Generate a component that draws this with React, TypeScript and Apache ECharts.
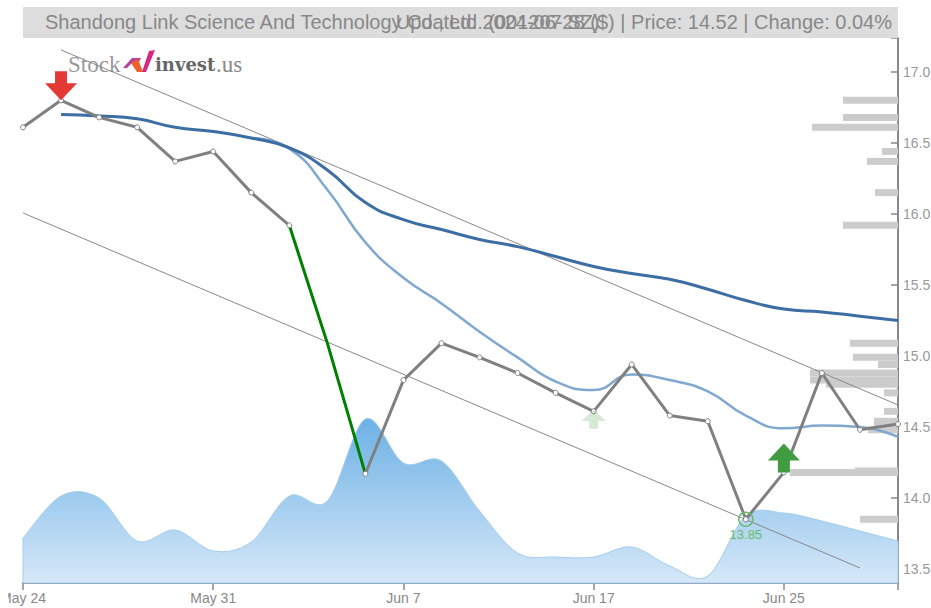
import React, { useEffect, useRef } from "react";
import * as echarts from "echarts";

const categories = ["May 24","May 27","May 28","May 29","May 30","May 31","Jun 3","Jun 4","Jun 5","Jun 6","Jun 7","Jun 11","Jun 12","Jun 13","Jun 14","Jun 17","Jun 18","Jun 19","Jun 20","Jun 21","Jun 25","Jun 26","Jun 27","Jun 28"];
const closeGray = [16.61,16.80,16.68,16.61,16.37,16.44,16.15,15.92,null,14.17,14.83,15.09,14.99,14.88,14.74,14.61,14.94,14.58,14.54,13.85,14.18,14.88,14.48,14.52];
const closeGreen = [null,null,null,null,null,null,null,15.92,15.09,14.17,null,null,null,null,null,null,null,null,null,null,null,null,null,null];
const maLong = [null,16.70,16.69,16.67,16.61,16.58,16.535,16.465,16.31,16.08,15.96,15.89,15.82,15.77,15.70,15.63,15.58,15.54,15.47,15.39,15.33,15.31,15.28,15.25];
const maShort = [null,null,null,null,null,null,16.535,16.46,16.17,15.80,15.55,15.37,15.17,14.99,14.82,14.76,14.87,14.83,14.75,14.58,14.49,14.51,14.50,14.43];
const trendUpper = [null,17.155,null,null,null,null,null,null,null,null,null,null,null,null,null,null,null,null,null,null,null,null,null,14.655];
const trendLower = [16.007,null,null,null,null,null,null,null,null,null,null,null,null,null,null,null,null,null,null,null,null,null,13.507,null];
const volume = [450,870,850,420,530,320,410,870,820,1640,1200,1220,720,300,260,260,360,170,70,670,700,620,520,420];
const profilePrice = [16.80,16.68,16.61,16.44,16.37,16.15,15.92,15.09,14.99,14.94,14.88,14.83,14.80,14.74,14.61,14.54,14.51,14.48,14.18,14.19,13.85];
const profileSize = [55,55,86,16,31,23,55,48,45,20,88,88,72,14,14,24,24,30,108,43,38];
const yTicks = [13.5,14,14.5,15,15.5,16,16.5,17];
const titleLeft = "Shandong Link Science And Technology Co., Ltd. (001207.SZ)";
const titleRight = "Updated: 2024-06-28 ($) | Price: 14.52 | Change: 0.04%";

const arrowDown = "path://M10 0H22V12H32L16 29L0 12H10Z";
const arrowUp = "path://M16 0L32 17H22V29H10V17H0Z";

const OX = 8;

function areaPath(pts: number[][], baseY: number) {
  let d = `M${pts[0][0]} ${baseY}L${pts[0][0]} ${pts[0][1]}`;
  for (let i = 0; i < pts.length - 1; i++) {
    const p0 = pts[Math.max(0, i - 1)];
    const p1 = pts[i];
    const p2 = pts[i + 1];
    const p3 = pts[Math.min(pts.length - 1, i + 2)];
    const c1x = p1[0] + (p2[0] - p0[0]) / 6;
    const c1y = p1[1] + (p2[1] - p0[1]) / 6;
    const c2x = p2[0] - (p3[0] - p1[0]) / 6;
    const c2y = p2[1] - (p3[1] - p1[1]) / 6;
    d += `C${c1x} ${c1y} ${c2x} ${c2y} ${p2[0]} ${p2[1]}`;
  }
  d += `L${pts[pts.length - 1][0]} ${baseY}Z`;
  return d;
}

export default function App() {
  const ref = useRef<HTMLDivElement>(null);
  useEffect(() => {
    document.body.style.overflow = "hidden";
    const chart = echarts.init(ref.current!, undefined, { renderer: "svg" });
    const font = "Liberation Sans";
    chart.setOption({
      animation: false,
      backgroundColor: "#fff",
      grid: { left: 23 - OX, right: 923 - (898 - OX), top: 38, bottom: 608 - 583, containLabel: false, outerBoundsMode: "none" },
      xAxis: [
        {
          type: "category",
          data: categories,
          boundaryGap: false,
          axisLine: { lineStyle: { color: "#888", width: 2 } },
          axisTick: { length: 7, interval: (i: number) => i % 5 === 0 || i === 23, lineStyle: { color: "#888", width: 1.5 } },
          axisLabel: { interval: (i: number) => i % 5 === 0, color: "#888", fontSize: 14, fontFamily: font, margin: 8, hideOverlap: false },
          splitLine: { show: false },
        },
        { type: "value", show: false, inverse: true, min: 0, max: 875, splitLine: { show: false } },
      ],
      yAxis: [
        {
          type: "value",
          position: "right",
          min: 13.401,
          max: 17.239,
          axisLine: { show: true, lineStyle: { color: "#888", width: 2 } },
          axisTick: { show: true, inside: true, length: 7, customValues: [...yTicks, 17.239], lineStyle: { color: "#888", width: 1.5 } },
          axisLabel: { customValues: yTicks, formatter: (v: number) => v.toFixed(1), color: "#999", fontSize: 14, fontFamily: font, margin: 5 },
          splitLine: { show: false },
        },
        { type: "value", show: false, min: 0, max: 5450, splitLine: { show: false } },
      ],
      series: [
        {
          type: "custom",
          name: "Volume",
          xAxisIndex: 0,
          yAxisIndex: 1,
          data: volume.map((v, i) => [i, v]),
          encode: { x: 0, y: 1 },
          renderItem: (p: any, api: any) => {
            if (p.dataIndex !== volume.length - 1) return null;
            const pts = volume.map((v, i) => api.coord([i, v]));
            const baseY = api.coord([0, 0])[1];
            return {
              type: "path",
              shape: { pathData: areaPath(pts, baseY) },
              style: {
                stroke: "#a3cdef",
                lineWidth: 1,
                fill: new echarts.graphic.LinearGradient(0, 0, 0, 1, [
                  { offset: 0, color: "#6db1e5" },
                  { offset: 1, color: "#d6e8f8" },
                ]),
              },
            };
          },
          z: 1,
        },
        {
          type: "custom",
          name: "Profile",
          xAxisIndex: 1,
          yAxisIndex: 0,
          data: profileSize.map((s, i) => [s, profilePrice[i]]),
          encode: { x: 0, y: 1 },
          renderItem: (_p: any, api: any) => {
            const a = api.coord([api.value(0), api.value(1)]);
            const b = api.coord([0, api.value(1)]);
            return { type: "rect", shape: { x: a[0], y: a[1] - 3.5, width: b[0] - a[0], height: 7 }, style: { fill: "#cccccc" } };
          },
          z: 2,
        },
        { type: "line", data: trendUpper, connectNulls: true, symbol: "none", lineStyle: { color: "#888", width: 1 }, z: 3 },
        { type: "line", data: trendLower, connectNulls: true, symbol: "none", lineStyle: { color: "#888", width: 1 }, z: 3 },
        { type: "line", data: maShort, smooth: 0.5, symbol: "none", lineStyle: { color: "#81a9cf", width: 2.5 }, z: 4 },
        { type: "line", data: maLong, smooth: 0.5, symbol: "none", lineStyle: { color: "#3c6ea4", width: 3 }, z: 5 },
        { type: "line", data: closeGreen, symbol: "none", lineStyle: { color: "#008000", width: 3 }, z: 6 },
        {
          type: "line",
          data: closeGray,
          symbol: "circle",
          symbolSize: 5,
          showSymbol: true,
          itemStyle: { color: "#fff", borderColor: "#808080", borderWidth: 1 },
          lineStyle: { color: "#808080", width: 3 },
          z: 7,
          markPoint: {
            z: 8,
            label: { show: false },
            data: [
              { coord: [1, 16.80], symbol: arrowDown, symbolSize: [32, 29], symbolOffset: [0, "-50%"], itemStyle: { color: "#e53935" } },
              { coord: [20, 14.18], symbol: arrowUp, symbolSize: [32, 29], symbolOffset: [0, "-50%"], itemStyle: { color: "#3f9c40" } },
              { coord: [15, 14.61], symbol: arrowUp, symbolSize: [24, 19], symbolOffset: [0, 8], itemStyle: { color: "#3f9c40", opacity: 0.22 } },
              {
                coord: [19, 13.85],
                symbol: "circle",
                symbolSize: 14,
                itemStyle: { color: "rgba(0,0,0,0)", borderColor: "#66bb6a", borderWidth: 1.5 },
                label: { show: true, position: "bottom", distance: 1, formatter: "13.85", color: "#66bb6a", fontSize: 13, fontFamily: font },
              },
            ],
          },
        },
      ],
      graphic: [
        { type: "rect", z: 100, shape: { x: 23 - OX, y: 7, width: 875, height: 31 }, style: { fill: "#dddddd" } },
        { type: "text", z: 101, x: 45 - OX, y: 22, style: { text: titleLeft, fill: "#888", font: `20px "${font}"`, textAlign: "left", textVerticalAlign: "middle" } },
        { type: "text", z: 101, x: 892 - OX, y: 22, style: { text: titleRight, fill: "#888", font: `20px "${font}"`, textAlign: "right", textVerticalAlign: "middle" } },
        { type: "text", z: 0, x: 68 - OX, y: 64, style: { text: "Stock", fill: "#999", font: `23px "Liberation Serif"`, textVerticalAlign: "middle" } },
        { type: "polygon", z: 0, shape: { points: [[123 - OX, 68], [132 - OX, 58], [141 - OX, 58], [137 - OX, 66], [132 - OX, 63], [127 - OX, 68]] }, style: { fill: "#b8409f" } },
        { type: "polygon", z: 0, shape: { points: [[131 - OX, 63], [138 - OX, 59], [143 - OX, 72], [137 - OX, 72]] }, style: { fill: "#f0602a" } },
        { type: "polygon", z: 0, shape: { points: [[142 - OX, 72], [149 - OX, 51], [155 - OX, 50], [146 - OX, 72]] }, style: { fill: "#d6287f" } },
        { type: "text", z: 0, x: 155 - OX, y: 64, style: { text: "invest", fill: "#666", font: `bold 18px "DejaVu Serif"`, textVerticalAlign: "middle" } },
        { type: "text", z: 0, x: 216 - OX, y: 64, style: { text: ".us", fill: "#888", font: `23px "Liberation Serif"`, textVerticalAlign: "middle" } },
      ],
    });
    return () => chart.dispose();
  }, []);
  return <div ref={ref} style={{ position: "absolute", left: OX, top: 0, width: 931 - OX, height: 608 }} />;
}
